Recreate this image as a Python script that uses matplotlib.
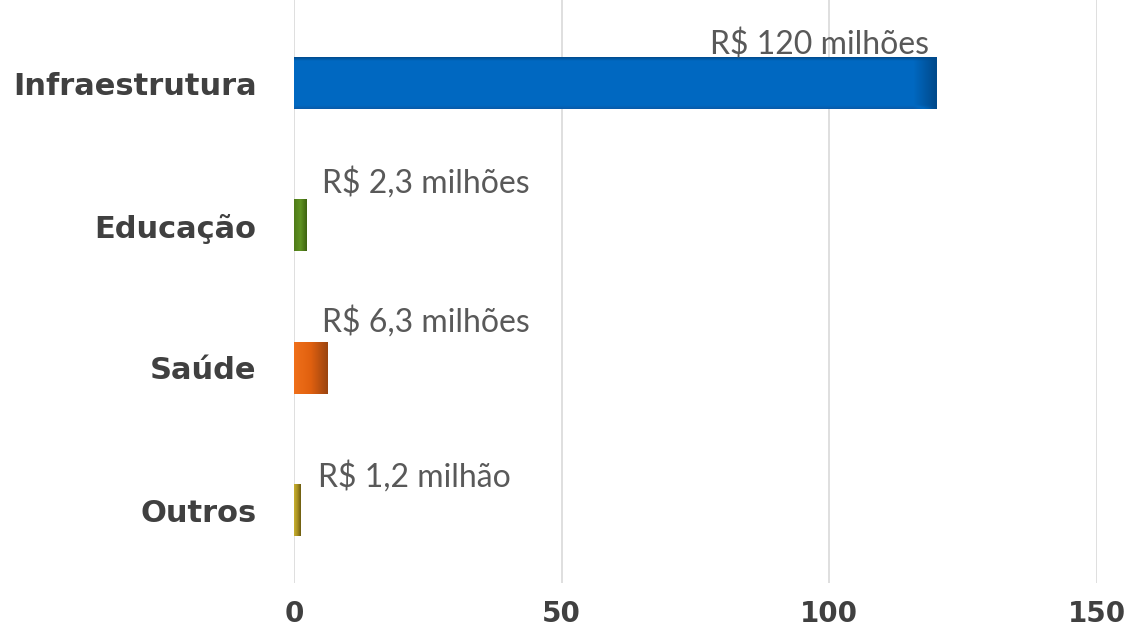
import numpy as np
import matplotlib
matplotlib.use("Agg")
import matplotlib.pyplot as plt
from matplotlib.colors import LinearSegmentedColormap

categories = ["Infraestrutura", "Educação", "Saúde", "Outros"]
values = [120, 2.3, 6.3, 1.2]
value_labels = ["R$ 120 milhões", "R$ 2,3 milhões", "R$ 6,3 milhões", "R$ 1,2 milhão"]
xticks = [0, 50, 100, 150]

# gradient colors per bar
grad_colors = [
    ("#004a8c", "#0069c2", "#0a5aa8"),
    ("#4e7a18", "#5f9222", "#3d6210"),
    ("#f0701a", "#e0600f", "#9a4410"),
    ("#c8b030", "#a89020", "#6a5a10"),
]
grad_dir = ["v", "h", "h", "h"]

fig = plt.figure(figsize=(11.34, 6.39), dpi=100)
ax = fig.add_axes([0.2593, 0.0876, 0.9674 - 0.2593, 1 - 0.0876])

ypos = np.arange(len(categories))
bars = ax.barh(ypos, values, height=0.36, color="none", zorder=3)

for b, cols, d in zip(bars, grad_colors, grad_dir):
    x0, y0 = b.get_x(), b.get_y()
    w, h = b.get_width(), b.get_height()
    cmap = LinearSegmentedColormap.from_list("g", list(cols))
    if d == "v":
        g = np.concatenate([np.linspace(0, 0.5, 20),
                            np.full(216, 0.5),
                            np.linspace(0.5, 1, 20)]).reshape(-1, 1)
        g = np.repeat(g, 256, axis=1)
        # darker right edge
        edge = np.concatenate([np.zeros(246), np.linspace(0, 1, 10)])
        g = g * (1 - edge) + 0.0 * edge
    else:
        g = np.linspace(0, 1, 256).reshape(1, -1)
    ax.imshow(g, cmap=cmap, aspect="auto", extent=(x0, x0 + w, y0 + h, y0),
              zorder=3, interpolation="bilinear")

# label placement (layout only)
label_x = [118.6, 5.3, 5.3, 4.4]
label_dy = [-0.205, -0.232, -0.254, -0.162]
label_ha = ["right", "left", "left", "left"]
for y, lx, dy, ha, txt in zip(ypos, label_x, label_dy, label_ha, value_labels):
    ax.text(lx, y + dy, txt, ha=ha, va="baseline", fontsize=23,
            family="Lato", color="#595959", zorder=4)

ax.set_xlim(0, 150)
ax.set_ylim(3.514, -0.59)
ax.set_xticks(xticks)
ax.set_xticklabels([str(t) for t in xticks], fontsize=20, fontweight="bold",
                   color="#404040", family="DejaVu Sans")
ax.set_yticks(ypos)
ax.set_yticklabels(categories, fontsize=22, fontweight="bold", color="#404040",
                   family="DejaVu Sans")
ax.tick_params(axis="both", length=0)
ax.tick_params(axis="x", pad=12)
ax.tick_params(axis="y", pad=27)
ax.grid(axis="x", color="#d9d9d9", linewidth=1.2, zorder=0)
ax.set_axisbelow(True)
for s in ax.spines.values():
    s.set_visible(False)

fig.savefig("out.png", dpi=100)
